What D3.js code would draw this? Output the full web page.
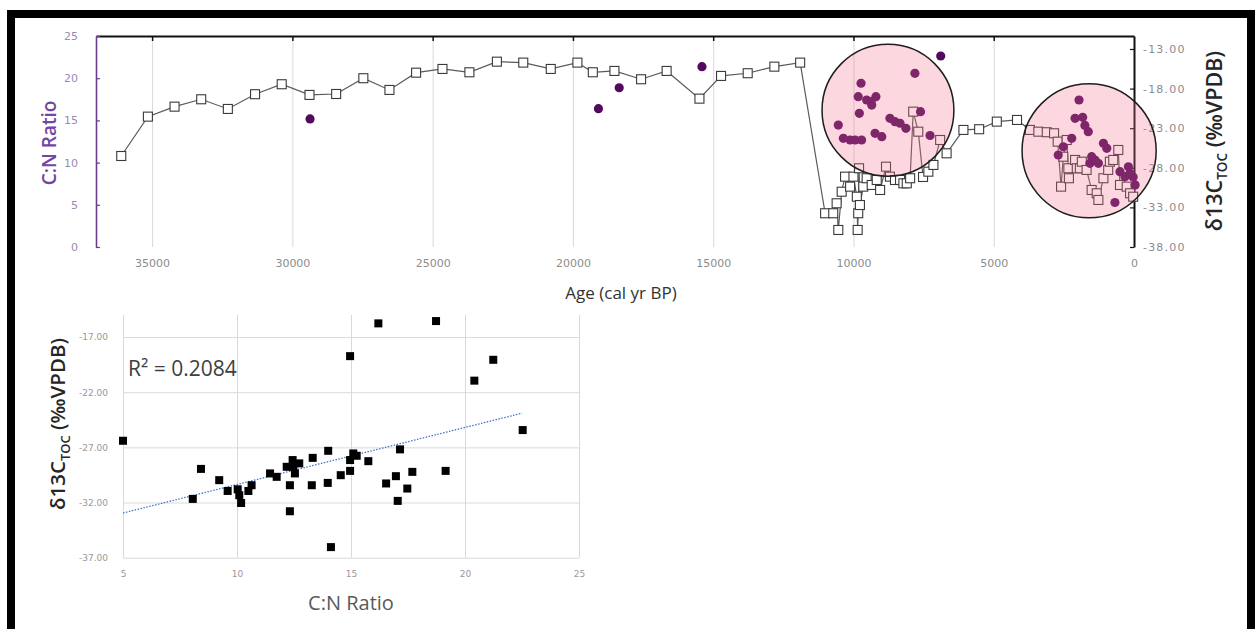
<!DOCTYPE html>
<html>
<head>
<meta charset="utf-8">
<script src="https://cdn.jsdelivr.net/npm/d3@7"></script>
<style>
  body { margin: 0; background: #fff; }
  svg { display: block; }
</style>
</head>
<body>
<svg id="figure" width="1255" height="629"></svg>
<script>
// ---------- data ----------

// age profile: axis extents and ticks
const ageDomain = [37000, 0];
const ageTicks = [35000, 30000, 25000, 20000, 15000, 10000, 5000, 0];
const cnDomain = [0, 25];
const cnTicks = [0, 5, 10, 15, 20, 25];
const d13Domain = [-38, -11.36];
const d13Ticks = [-38, -33, -28, -23, -18, -13];

// d13C TOC (open squares, right axis)
const sqAge = [36100, 35150, 34200, 33250, 32300, 31330, 30380, 29390, 28440, 27470,
  26540, 25590, 24650, 23690, 22710, 21770, 20790, 19840, 19290, 18520,
  17570, 16660, 15490, 14720, 13770, 12820, 11900, 11010, 10720, 10600,
  10540, 10420, 10300, 10120, 10000, 9880, 9850, 9830, 9800, 9770,
  9650, 9530, 9350, 9170, 9050, 8840, 8700, 8520, 8340, 8220,
  8100, 7980, 7870, 7690, 7520, 7330, 7150, 6910, 6680, 6080,
  5520, 4890, 4170, 3710, 3410, 3110, 2850, 2720, 2600, 2520,
  2400, 2340, 2320, 2100, 2040, 1930, 1860, 1690, 1510, 1330,
  1270, 1090, 920, 860, 740, 560, 500, 260, 140, 30];
const sqD13 = [-26.51, -21.54, -20.28, -19.35, -20.57, -18.71, -17.45, -18.80, -18.68, -16.69,
  -18.17, -15.99, -15.52, -15.94, -14.60, -14.72, -15.52, -14.72, -15.94, -15.77,
  -16.82, -15.77, -19.27, -16.40, -16.06, -15.23, -14.72, -33.74, -33.74, -32.48,
  -35.85, -31.02, -29.12, -30.38, -29.12, -31.65, -35.85, -33.74, -28.06, -32.70,
  -30.38, -29.32, -30.17, -29.54, -30.80, -27.86, -29.12, -29.54, -29.54, -29.96,
  -29.96, -29.32, -20.91, -23.44, -29.16, -28.49, -27.64, -24.49, -26.17, -23.22,
  -23.13, -22.17, -21.96, -23.22, -23.44, -23.51, -23.64, -24.70, -30.38, -26.60,
  -24.49, -28.06, -29.32, -27.01, -28.06, -28.06, -27.23, -28.27, -30.80, -31.22,
  -32.06, -29.32, -28.27, -27.23, -27.01, -25.75, -30.17, -30.38, -31.22, -31.65];

// C:N ratio (purple dots, left axis)
const dotAge = [29370, 19090, 18350, 15400, 6890, 10540, 10360, 10120, 9940, 9710,
  9790, 9730, 9830, 9530, 9370, 9200, 9350, 9230, 8990, 8700,
  8520, 8340, 8130, 7810, 7610, 7270, 2700, 2520, 2220, 2100,
  1960, 1830, 1750, 1630, 1570, 1510, 1390, 1270, 1090, 970,
  680, 500, 320, 200, 140, 30, -40];
const dotCN = [15.17, 16.39, 18.87, 21.36, 22.63, 14.45, 12.88, 12.68, 12.68, 12.68,
  15.84, 19.40, 17.81, 17.42, 17.22, 17.81, 16.82, 13.47, 13.07, 15.25,
  14.85, 14.66, 14.06, 20.58, 16.03, 13.21, 10.90, 11.88, 12.88, 15.25,
  17.42, 15.37, 14.40, 13.66, 9.92, 10.70, 10.31, 9.92, 12.29, 11.69,
  5.27, 8.92, 8.33, 9.51, 8.73, 8.29, 7.35];

// highlighted intervals (centre age, centre C:N, half-width in years)
const zoneAge = [8770, 1600];
const zoneCN = [16.2, 11.4];
const zoneSpan = [2350, 2390];

// cross plot
const scDomainX = [5, 25];
const scTicksX = [5, 10, 15, 20, 25];
const scDomainY = [-37, -15];
const scTicksY = [-37, -32, -27, -22, -17];
const scCN = [5.0, 8.42, 8.06, 9.22, 9.59, 10.03, 10.1, 10.18, 10.5, 10.64,
  11.45, 11.74, 12.18, 12.44, 12.47, 12.54, 12.73, 12.32, 12.32, 13.28,
  13.32, 16.2, 18.73, 14.96, 21.24, 20.41, 22.53, 14.0, 13.98, 14.55,
  14.96, 15.1, 14.96, 15.25, 15.76, 16.54, 16.97, 17.15, 17.05, 17.47,
  17.69, 19.15, 14.12];
const scD13 = [-26.4, -28.95, -31.67, -29.97, -30.95, -30.8, -31.34, -32.04, -30.95, -30.43,
  -29.36, -29.67, -28.76, -28.15, -28.76, -29.36, -28.45, -30.43, -32.79, -30.43,
  -27.95, -15.76, -15.55, -18.73, -19.06, -20.95, -25.43, -27.31, -30.22, -29.52,
  -29.13, -27.55, -28.15, -27.76, -28.25, -30.27, -29.61, -27.18, -31.85, -30.73,
  -29.22, -29.13, -36.04];
const trendCN = [5, 22.5];
const trendD13 = [-32.95, -23.9];
const r2Label = "R\u00b2 = 0.2084";

// ---------- drawing ----------
const svg = d3.select("#figure");
const tickFont = "DejaVu Sans, sans-serif";
const titleFont = "Open Sans, sans-serif";

// style helper for d3 axis groups
function styleAxis(g, color, size) {
  g.attr("font-family", tickFont).attr("font-size", size);
  g.selectAll("text").attr("fill", color);
}

// ===== Age profile =====
const ageBox = { left: 96, right: 1134, top: 36, bottom: 247 };
const xAge = d3.scaleLinear().domain(ageDomain).range([ageBox.left, ageBox.right]);
const yCN = d3.scaleLinear().domain(cnDomain).range([ageBox.bottom, ageBox.top]);
const yD13 = d3.scaleLinear().domain(d13Domain).range([ageBox.bottom, ageBox.top]);
const inner = ageTicks.filter((d) => d > 0);

const ageG = svg.append("g");

// vertical gridlines
ageG.append("g")
  .attr("transform", `translate(0,${ageBox.bottom})`)
  .call(d3.axisBottom(xAge).tickValues(inner).tickSize(-(ageBox.bottom - ageBox.top)).tickFormat(""))
  .call((g) => g.select(".domain").remove())
  .call((g) => g.selectAll("line").attr("stroke", "#d9d9d9"));

// age labels under the plot
ageG.append("g")
  .attr("transform", `translate(0,${ageBox.bottom})`)
  .call(d3.axisBottom(xAge).tickValues(ageTicks).tickSize(0).tickPadding(12).tickFormat(d3.format("d")))
  .call((g) => g.select(".domain").remove())
  .call((g) => styleAxis(g, "#8c8c8c", 11));

// top frame line with small ticks
ageG.append("g")
  .attr("transform", `translate(0,${ageBox.top})`)
  .call(d3.axisTop(xAge).tickValues(inner).tickSizeInner(-5).tickSizeOuter(0).tickFormat(""))
  .call((g) => g.select(".domain").attr("stroke", "#111").attr("stroke-width", 2))
  .call((g) => g.selectAll(".tick line").attr("stroke", "#111").attr("stroke-width", 1.5));

// left axis (C:N)
ageG.append("g")
  .attr("transform", `translate(${ageBox.left},0)`)
  .call(d3.axisLeft(yCN).tickValues(cnTicks).tickSizeInner(-4).tickSizeOuter(0).tickPadding(18))
  .call((g) => g.select(".domain").attr("stroke", "#6a3d8f").attr("stroke-width", 1.6))
  .call((g) => g.selectAll(".tick line").attr("stroke", "#6a3d8f").attr("stroke-width", 1.2))
  .call((g) => styleAxis(g, "#9a8ab0", 11));

// right axis (d13C)
ageG.append("g")
  .attr("transform", `translate(${ageBox.right},0)`)
  .call(d3.axisRight(yD13).tickValues(d13Ticks).tickSizeInner(-4).tickSizeOuter(0).tickPadding(9)
    .tickFormat((d) => d.toFixed(2)))
  .call((g) => g.select(".domain").attr("stroke", "#111").attr("stroke-width", 2))
  .call((g) => g.selectAll(".tick line").attr("stroke", "#111").attr("stroke-width", 1.2))
  .call((g) => styleAxis(g, "#8c8c8c", 11))
  .call((g) => g.selectAll("text").attr("letter-spacing", 1.2));

// d13C series
const sqData = sqAge.map((a, i) => ({ age: a, v: sqD13[i] }));
ageG.append("path")
  .datum(sqData)
  .attr("d", d3.line().x((d) => xAge(d.age)).y((d) => yD13(d.v)))
  .attr("fill", "none")
  .attr("stroke", "#595959")
  .attr("stroke-width", 1.2);

ageG.selectAll(".sq")
  .data(sqData)
  .join("rect")
  .attr("class", "sq")
  .attr("x", (d) => xAge(d.age) - 4.5)
  .attr("y", (d) => yD13(d.v) - 4.5)
  .attr("width", 9)
  .attr("height", 9)
  .attr("fill", "#fff")
  .attr("stroke", "#3a3a3a")
  .attr("stroke-width", 1.1);

// C:N series
ageG.selectAll(".dot")
  .data(dotAge.map((a, i) => ({ age: a, v: dotCN[i] })))
  .join("circle")
  .attr("class", "dot")
  .attr("cx", (d) => xAge(d.age))
  .attr("cy", (d) => yCN(d.v))
  .attr("r", 4.6)
  .attr("fill", "#520a5e");

// translucent highlight circles on top
ageG.selectAll(".zone")
  .data(zoneAge.map((a, i) => ({ age: a, v: zoneCN[i], span: zoneSpan[i] })))
  .join("circle")
  .attr("class", "zone")
  .attr("cx", (d) => xAge(d.age))
  .attr("cy", (d) => yCN(d.v))
  .attr("r", (d) => xAge(0) - xAge(d.span))
  .attr("fill", "rgb(245,110,140)")
  .attr("fill-opacity", 0.28)
  .attr("stroke", "#1e1e1e")
  .attr("stroke-width", 1.5);

// titles
ageG.append("text")
  .attr("x", 621).attr("y", 299)
  .attr("text-anchor", "middle")
  .attr("font-family", titleFont).attr("font-size", 17)
  .attr("fill", "#333")
  .text("Age (cal yr BP)");

ageG.append("text")
  .attr("transform", "translate(56,143) rotate(-90)")
  .attr("text-anchor", "middle")
  .attr("font-family", titleFont).attr("font-size", 19).attr("font-weight", 600)
  .attr("fill", "#7444a4")
  .text("C:N Ratio");

function d13Title(g, x, y, size) {
  const t = g.append("text")
    .attr("transform", `translate(${x},${y}) rotate(-90)`)
    .attr("text-anchor", "middle")
    .attr("font-family", titleFont).attr("font-size", size).attr("font-weight", 600)
    .attr("fill", "#262626");
  t.append("tspan").text("\u03b413C");
  t.append("tspan").attr("font-size", size * 0.63).attr("dy", size * 0.22).text("TOC");
  t.append("tspan").attr("dy", -size * 0.22).text(" (\u2030VPDB)");
}
d13Title(ageG, 1222, 141, 21.5);

// ===== Cross plot =====
const scBox = { left: 123, right: 579, top: 315, bottom: 557.7 };
const xSc = d3.scaleLinear().domain(scDomainX).range([scBox.left, scBox.right]);
const ySc = d3.scaleLinear().domain(scDomainY).range([scBox.bottom, scBox.top]);
const scG = svg.append("g");

scG.append("g")
  .attr("transform", `translate(0,${scBox.bottom})`)
  .call(d3.axisBottom(xSc).tickValues(scTicksX).tickSize(-(scBox.bottom - scBox.top)).tickFormat(""))
  .call((g) => g.select(".domain").remove())
  .call((g) => g.selectAll("line").attr("stroke", "#d9d9d9"));

scG.append("g")
  .attr("transform", `translate(${scBox.left},0)`)
  .call(d3.axisLeft(ySc).tickValues(scTicksY).tickSize(-(scBox.right - scBox.left)).tickFormat(""))
  .call((g) => g.select(".domain").remove())
  .call((g) => g.selectAll("line").attr("stroke", "#d9d9d9"));

scG.append("g")
  .attr("transform", `translate(0,${scBox.bottom})`)
  .call(d3.axisBottom(xSc).tickValues(scTicksX).tickSize(0).tickPadding(13))
  .call((g) => g.select(".domain").remove())
  .call((g) => styleAxis(g, "#999", 9));

scG.append("g")
  .attr("transform", `translate(${scBox.left},0)`)
  .call(d3.axisLeft(ySc).tickValues(scTicksY).tickSize(0).tickPadding(15).tickFormat((d) => d.toFixed(2)))
  .call((g) => g.select(".domain").remove())
  .call((g) => styleAxis(g, "#999", 9));

// trend line
scG.append("path")
  .datum(trendCN.map((c, i) => [c, trendD13[i]]))
  .attr("d", d3.line().x((d) => xSc(d[0])).y((d) => ySc(d[1])))
  .attr("fill", "none")
  .attr("stroke", "#4472c4")
  .attr("stroke-width", 1.3)
  .attr("stroke-dasharray", "1.5,1.5");

scG.selectAll(".pt")
  .data(scCN.map((c, i) => ({ c: c, v: scD13[i] })))
  .join("rect")
  .attr("class", "pt")
  .attr("x", (d) => xSc(d.c) - 4)
  .attr("y", (d) => ySc(d.v) - 4)
  .attr("width", 8)
  .attr("height", 8)
  .attr("fill", "#000");

scG.append("text")
  .attr("x", 128).attr("y", 376)
  .attr("font-family", titleFont).attr("font-size", 21)
  .attr("fill", "#404040")
  .text(r2Label);

scG.append("text")
  .attr("x", 351).attr("y", 610)
  .attr("text-anchor", "middle")
  .attr("font-family", titleFont).attr("font-size", 20)
  .attr("fill", "#595959")
  .text("C:N Ratio");

d13Title(scG, 65, 424, 20.5);

// black frame round the figure
svg.append("rect")
  .attr("x", 11).attr("y", 14)
  .attr("width", 1240).attr("height", 800)
  .attr("fill", "none")
  .attr("stroke", "#000")
  .attr("stroke-width", 8);
</script>
</body>
</html>
